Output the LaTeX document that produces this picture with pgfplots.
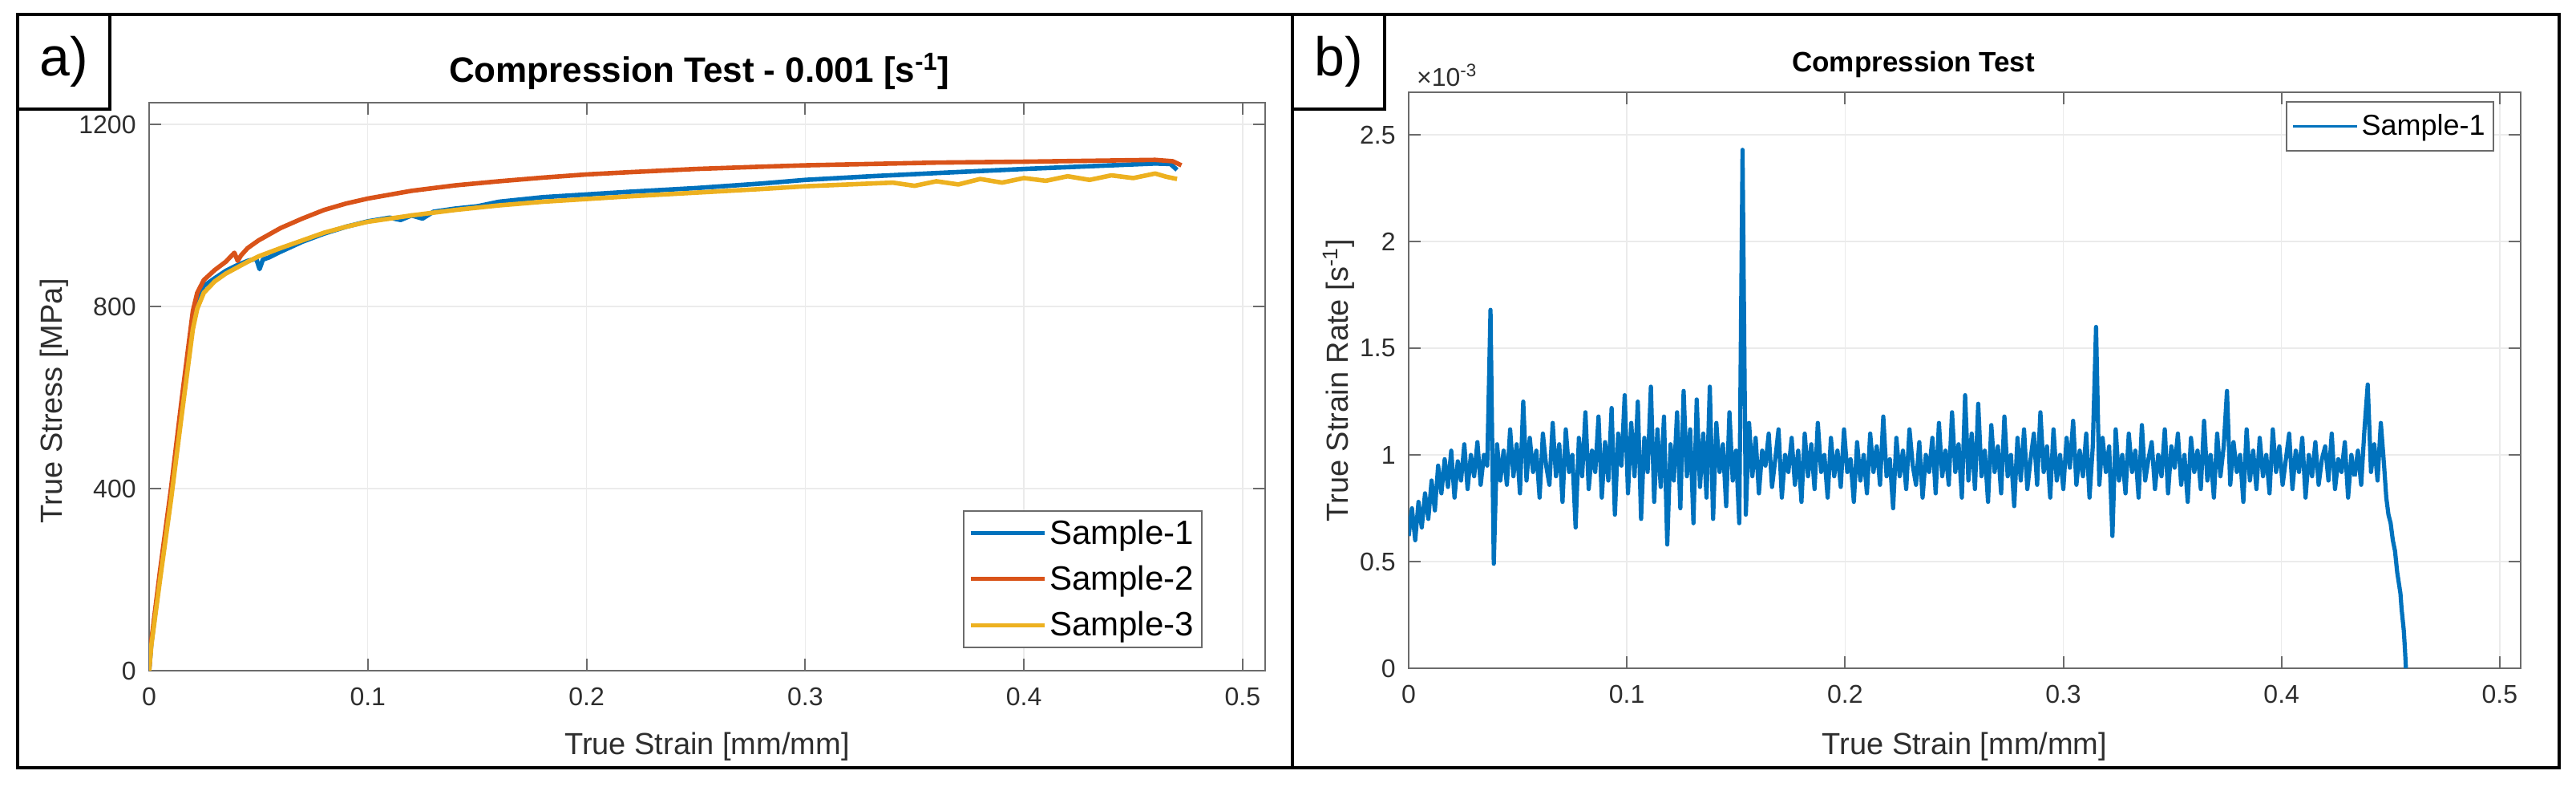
\documentclass[border=0pt]{standalone}
\usepackage{pgfplots}
\pgfplotsset{compat=1.18}
\usepackage{fontspec}
\setmainfont{Liberation Sans}
\definecolor{mblue}{rgb}{0,0.447,0.741}
\definecolor{mred}{rgb}{0.85,0.325,0.098}
\definecolor{myel}{rgb}{0.929,0.694,0.125}
\definecolor{axline}{gray}{0.42}
\definecolor{txt}{gray}{0.18}
\pgfplotsset{
  mstyle/.style={
    scale only axis,
    anchor=south west,
    axis line style={axline, line width=1.2pt},
    tick style={axline, line width=1pt},
    major tick length=7.5pt,
    tick align=inside,
    grid=major,
    major grid style={color=gray!16, line width=0.7pt},
    ticklabel style={font=\fontsize{16}{19}\selectfont, text=txt, inner sep=0pt},
    xticklabel style={anchor=base, yshift=-21.5pt},
    yticklabel style={anchor=east, xshift=-8pt},
    /pgf/number format/assume math mode=true,
    /pgf/number format/1000 sep={},
    xtick={0,0.1,0.2,0.3,0.4,0.5},
    xticklabels={0,0.1,0.2,0.3,0.4,0.5},
    xmin=0,
    label style={font=\fontsize{19}{22}\selectfont, text=txt},
    legend cell align=left,
  }
}
\begin{document}
\begin{tikzpicture}
\useasboundingbox (0,0) rectangle (1606.5pt,490pt);
% panel a
\begin{axis}[mstyle,
  at={(93pt,72pt)}, width=696pt, height=354pt,
  xmax=0.5103, ymin=0, ymax=1247.6,
  ytick={0,400,800,1200},
  yticklabels={0,400,800,1200},
  xlabel={True Strain [mm/mm]},
  ylabel={True Stress [MPa]},
  xlabel style={at={(axis description cs:0.5,0)}, anchor=base, yshift=-52pt},
  ylabel style={at={(axis description cs:-0.0848,0.475)}, anchor=center},
  title={\textbf{Compression Test - 0.001 [s\textsuperscript{-1}]}},
  title style={at={(axis description cs:0.493,1)}, anchor=base, yshift=6.5pt, font=\fontsize{22}{26}\selectfont, text=black},
  legend style={at={(axis description cs:0.944,0.0395)}, anchor=south east,
    draw=axline, line width=1.1pt, fill=white,
    font=\fontsize{21}{25}\selectfont, text=black,
    inner xsep=3pt, inner ysep=3.5pt, row sep=8pt,
    nodes={inner sep=2pt}},
  legend image code/.code={\draw[#1, line width=2.6pt] (0pt,0pt) -- (46pt,0pt);},
]
\addplot[mblue, line width=2.8pt, line join=round] coordinates {
(0,0) (0.001,60) (0.005,210) (0.01,390) (0.015,585) (0.02,775) (0.022,815)
(0.025,845) (0.03,862) (0.035,878) (0.04,890) (0.045,900) (0.049,905)
(0.0505,882) (0.052,903) (0.055,908) (0.06,920) (0.07,942) (0.08,960)
(0.09,975) (0.1,987) (0.11,995) (0.115,990) (0.12,1000) (0.125,993)
(0.13,1008) (0.14,1015) (0.15,1020) (0.16,1030) (0.17,1035) (0.18,1040)
(0.2,1046) (0.22,1052) (0.25,1060) (0.28,1070) (0.3,1078) (0.33,1086)
(0.36,1093) (0.4,1102) (0.43,1108) (0.46,1114) (0.467,1113) (0.47,1100)
};
\addlegendentry{Sample-1}
\addplot[mred, line width=2.8pt, line join=round] coordinates {
(0,0) (0.001,65) (0.005,220) (0.01,400) (0.015,600) (0.02,790) (0.022,830)
(0.025,858) (0.03,880) (0.035,898) (0.039,918) (0.0405,900) (0.042,912)
(0.045,928) (0.05,945) (0.06,972) (0.07,993) (0.08,1012) (0.09,1026)
(0.1,1037) (0.12,1054) (0.14,1066) (0.16,1075) (0.18,1083) (0.2,1090)
(0.22,1095) (0.25,1102) (0.28,1107) (0.3,1110) (0.33,1113) (0.36,1116)
(0.4,1118) (0.43,1120) (0.46,1122) (0.468,1119) (0.472,1110)
};
\addlegendentry{Sample-2}
\addplot[myel, line width=2.8pt, line join=round] coordinates {
(0,0) (0.001,55) (0.005,200) (0.01,375) (0.015,565) (0.02,750) (0.022,795)
(0.025,830) (0.03,855) (0.035,872) (0.04,885) (0.045,898) (0.05,910)
(0.06,928) (0.07,945) (0.08,962) (0.09,975) (0.1,986) (0.12,1000)
(0.14,1012) (0.16,1022) (0.18,1030) (0.2,1036) (0.22,1042) (0.25,1050)
(0.28,1058) (0.3,1064) (0.32,1068) (0.34,1072) (0.35,1065) (0.36,1075)
(0.37,1068) (0.38,1080) (0.39,1072) (0.4,1082) (0.41,1076) (0.42,1086)
(0.43,1078) (0.44,1088) (0.45,1082) (0.46,1092) (0.465,1085) (0.47,1080)
};
\addlegendentry{Sample-3}
\end{axis}
% panel b
\begin{axis}[mstyle,
  at={(878.5pt,73.5pt)}, width=693.5pt, height=359pt,
  xmax=0.5096, ymin=0, ymax=2.7,
  ytick={0,0.5,1,1.5,2,2.5},
  yticklabels={0,0.5,1,1.5,2,2.5},
  xlabel={True Strain [mm/mm]},
  ylabel={True Strain Rate [s\textsuperscript{-1}]},
  xlabel style={at={(axis description cs:0.5,0)}, anchor=base, yshift=-53.5pt},
  ylabel style={at={(axis description cs:-0.0627,0.5)}, anchor=center},
  title={\textbf{Compression Test}},
  title style={at={(axis description cs:0.454,1)}, anchor=base, yshift=6.5pt, font=\fontsize{17.5}{21}\selectfont, text=black},
  legend style={at={(axis description cs:0.976,0.985)}, anchor=north east,
    draw=axline, line width=1.1pt, fill=white,
    font=\fontsize{18}{21}\selectfont, text=black,
    inner xsep=3pt, inner ysep=6pt,
    nodes={inner sep=2pt}},
  legend image code/.code={\draw[#1, line width=1.6pt] (0pt,0pt) -- (40pt,0pt);},
]
\addplot[mblue, line width=2.6pt, line join=round] table[row sep=\\, header=false, x expr=\coordindex*0.0015, y index=0] {
0.62\\0.75\\0.60\\0.78\\0.66\\0.82\\0.70\\0.88\\0.74\\0.95\\
0.82\\0.98\\0.85\\1.02\\0.80\\0.97\\0.88\\1.05\\0.84\\1.00\\
0.90\\1.06\\0.86\\1.00\\0.95\\1.68\\0.49\\1.05\\0.88\\1.02\\
0.86\\1.12\\0.90\\1.05\\0.82\\1.25\\0.88\\1.08\\0.92\\1.02\\
0.80\\1.10\\0.95\\0.86\\1.15\\0.90\\1.05\\0.78\\1.12\\0.92\\
1.00\\0.66\\1.08\\0.90\\1.20\\0.84\\1.02\\0.92\\1.18\\0.80\\
1.06\\0.88\\1.22\\0.72\\1.10\\0.95\\1.28\\0.82\\1.15\\0.90\\
1.25\\0.70\\1.08\\0.92\\1.32\\0.78\\1.12\\0.85\\1.18\\0.58\\
1.05\\0.88\\1.20\\0.75\\1.30\\0.90\\1.12\\0.68\\1.26\\0.85\\
1.10\\0.80\\1.32\\0.70\\1.15\\0.92\\1.05\\0.76\\1.20\\0.88\\
1.02\\0.68\\2.43\\0.72\\1.15\\0.90\\1.08\\0.82\\1.02\\0.95\\
1.10\\0.85\\0.98\\1.12\\0.80\\1.00\\0.92\\1.08\\0.86\\1.02\\
0.78\\1.10\\0.90\\1.05\\0.84\\1.15\\0.92\\1.00\\0.80\\1.08\\
0.90\\1.02\\0.85\\1.12\\0.92\\0.98\\0.78\\1.06\\0.88\\1.00\\
0.82\\1.10\\0.92\\1.04\\0.86\\1.18\\0.90\\0.98\\0.75\\1.08\\
0.90\\1.02\\0.84\\1.12\\0.95\\0.86\\1.06\\0.80\\1.00\\0.92\\
1.08\\0.82\\1.15\\0.90\\1.02\\0.86\\1.20\\0.92\\1.05\\0.80\\
1.28\\0.88\\1.10\\0.84\\1.24\\0.90\\1.02\\0.78\\1.14\\0.92\\
1.04\\0.82\\1.18\\0.90\\1.00\\0.76\\1.08\\0.88\\1.12\\0.84\\
0.98\\1.10\\0.86\\1.20\\0.92\\1.04\\0.80\\1.12\\0.88\\1.00\\
0.84\\1.08\\0.94\\1.16\\0.86\\1.02\\0.90\\1.10\\0.80\\1.04\\
1.60\\0.86\\1.08\\0.92\\1.04\\0.62\\1.12\\0.88\\1.00\\0.82\\
1.10\\0.92\\1.02\\0.80\\1.14\\0.88\\0.98\\1.06\\0.84\\1.00\\
0.90\\1.12\\0.82\\1.04\\0.94\\1.10\\0.86\\1.00\\0.78\\1.08\\
0.92\\1.02\\0.84\\1.16\\0.88\\1.00\\0.80\\1.10\\0.90\\1.04\\
1.30\\0.86\\1.06\\0.92\\1.00\\0.78\\1.12\\0.88\\1.02\\0.84\\
1.08\\0.90\\1.00\\0.82\\1.12\\0.92\\1.04\\0.86\\0.98\\1.10\\
0.84\\1.02\\0.92\\1.08\\0.80\\1.00\\0.90\\1.06\\0.86\\0.98\\
1.04\\0.88\\1.10\\0.84\\0.98\\0.92\\1.06\\0.80\\1.00\\0.90\\
};
\addlegendentry{Sample-1}
\addplot[mblue, line width=2.6pt, line join=round, forget plot] coordinates {
(0.4335,0.90) (0.435,1.02) (0.4365,0.86) (0.438,1.12) (0.4395,1.33) (0.441,0.92)
(0.4425,1.05) (0.444,0.88) (0.4455,1.15) (0.447,0.95) (0.448,0.80) (0.449,0.72)
(0.450,0.68) (0.451,0.60) (0.452,0.55) (0.453,0.45) (0.4545,0.35) (0.455,0.28)
(0.456,0.18) (0.4565,0.10) (0.457,0)
};
\end{axis}
\node[anchor=base west, font=\fontsize{16}{19}\selectfont, text=txt] at (880pt,436pt) {×10\textsuperscript{-3}};
% frames
\draw[line width=2pt] (11pt,11.5pt) rectangle (1596pt,481pt);
\draw[line width=2pt] (806pt,11.5pt) -- (806pt,481pt);
\draw[line width=2pt] (11pt,422pt) -- (68.5pt,422pt) -- (68.5pt,481pt);
\draw[line width=2pt] (806pt,422pt) -- (863.5pt,422pt) -- (863.5pt,481pt);
\node[font=\fontsize{34}{40}\selectfont] at (39.75pt,451.5pt) {a)};
\node[font=\fontsize{34}{40}\selectfont] at (834.75pt,451.5pt) {b)};
\end{tikzpicture}
\end{document}
